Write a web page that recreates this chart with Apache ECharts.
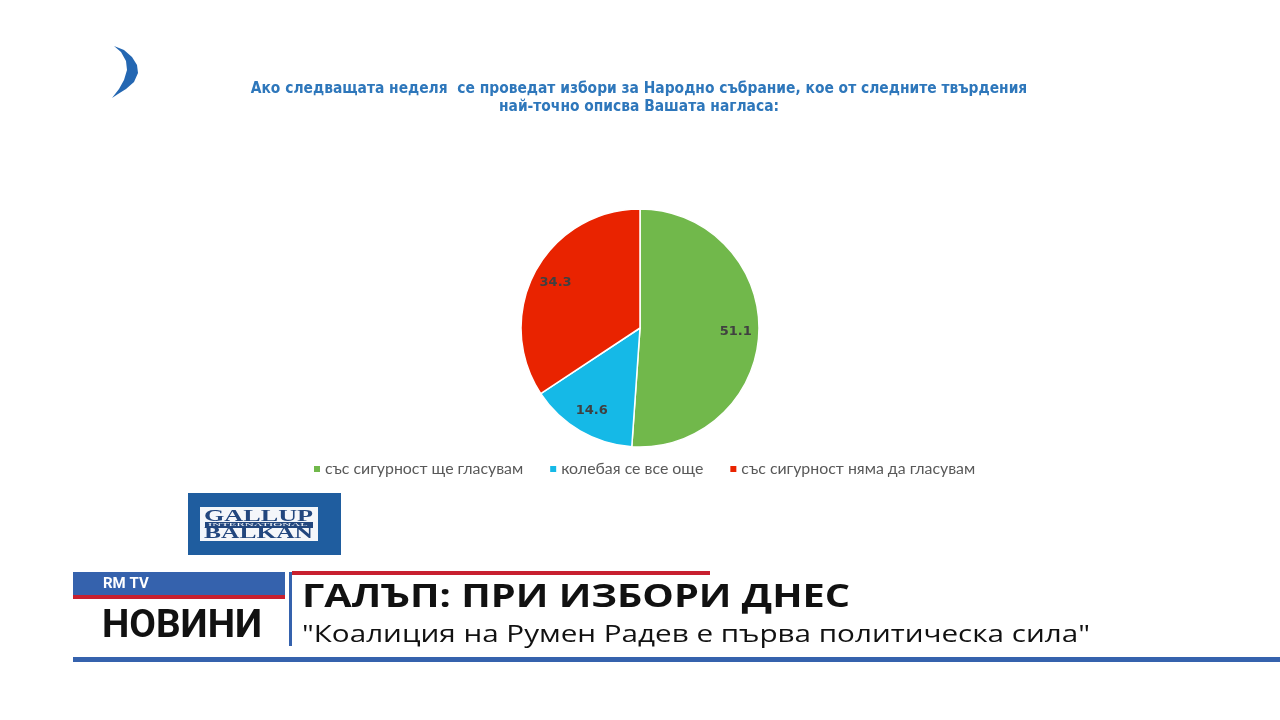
<!DOCTYPE html>
<html lang="bg" style="height: 100%">
<head>
    <meta charset="UTF-8">
</head>
<body style="height: 100%; margin: 0; background: #fff">
  <div id="container" style="width: 1280px; height: 720px"></div>

  <script type="text/javascript" src="https://fastly.jsdelivr.net/npm/echarts@6/dist/echarts.min.js"></script>

  <script type="text/javascript">
    var dom = document.getElementById('container');
    var myChart = echarts.init(dom, null, { renderer: 'canvas' });

    // chart data
    var categories = ['със сигурност ще гласувам', 'колебая се все още', 'със сигурност няма да гласувам'];
    var values = [51.1, 14.6, 34.3];
    var colors = ['#71b84b', '#15b9e7', '#e92300'];

    var titleText = 'Ако следващата неделя  се проведат избори за Народно събрание, кое от следните твърдения\nнай-точно описва Вашата нагласа:';
    var headline = 'ГАЛЪП: ПРИ ИЗБОРИ ДНЕС';
    var subline = '"Коалиция на Румен Радев е първа политическа сила"';

    var pieData = categories.map(function (name, i) {
      return { name: name, value: values[i], itemStyle: { color: colors[i] } };
    });

    var R = 119;
    var center = [640, 328];

    // horizontal stretch so a text run spans a given width
    var measureCtx = document.createElement('canvas').getContext('2d');
    function fit(text, font, width) {
      measureCtx.font = font;
      return width / measureCtx.measureText(text).width;
    }

    var headFont = 'bold 32px "Open Sans", sans-serif';
    var subFont = '23px "Open Sans", sans-serif';
    var serifFont = 'bold 16px "Liberation Serif", serif';
    var tinyFont = '5px "Liberation Serif", serif';

    function txt(x, y, text, font, fill, width, align) {
      return {
        type: 'text', x: x, y: y,
        scaleX: width ? fit(text, font, width) : 1,
        style: { text: text, font: font, fill: fill, textAlign: align || 'left', textVerticalAlign: 'middle' }
      };
    }

    var option = {
      backgroundColor: '#ffffff',
      animation: false,
      title: {
        text: titleText,
        left: 634,
        top: 75,
        textAlign: 'center',
        textStyle: {
          fontFamily: '"Liberation Sans Narrow", "DejaVu Sans Condensed", sans-serif',
          fontWeight: 'bold',
          fontSize: 15.4,
          lineHeight: 18,
          color: '#2e77bb'
        }
      },
      legend: {
        data: categories,
        left: 307,
        top: 456,
        icon: 'rect',
        itemWidth: 8,
        itemHeight: 8,
        itemGap: 25,
        textStyle: {
          fontFamily: 'Lato, sans-serif',
          fontSize: 15.9,
          color: '#595959',
          padding: [0, 0, 0, -1]
        }
      },
      series: [
        {
          type: 'pie',
          center: center,
          radius: R,
          startAngle: 90,
          clockwise: true,
          silent: true,
          label: { show: false },
          labelLine: { show: false },
          itemStyle: { borderColor: '#ffffff', borderWidth: 1.5 },
          data: pieData
        },
        {
          // label-only ring so values sit near the outer edge
          type: 'pie',
          center: center,
          radius: [R * 0.56, R],
          startAngle: 90,
          clockwise: true,
          silent: true,
          legendHoverLink: false,
          itemStyle: { color: 'rgba(0,0,0,0)', borderWidth: 0 },
          label: {
            show: true,
            position: 'inside',
            formatter: function (p) { return p.value.toFixed(1); },
            fontFamily: '"DejaVu Sans", sans-serif',
            fontWeight: 'bold',
            fontSize: 13,
            color: '#404040'
          },
          labelLine: { show: false },
          data: categories.map(function (name, i) {
            return { name: name + ' ', value: values[i] };
          })
        }
      ],
      graphic: [
        // channel logo crescent
        {
          type: 'polygon',
          shape: {
            points: [[114, 46], [124, 50], [132, 57], [137, 65], [138, 73], [134, 82], [126, 89], [118, 94], [112, 98],
                     [119, 89], [124, 80], [127, 70], [126, 61], [121, 52]]
          },
          style: { fill: '#2467b2' }
        },
        // Gallup logo
        { type: 'rect', shape: { x: 188, y: 493, width: 153, height: 62 }, style: { fill: '#1f5d9f' } },
        { type: 'rect', shape: { x: 200, y: 507, width: 118, height: 34 }, style: { fill: '#f4f6fa' } },
        { type: 'rect', shape: { x: 205, y: 522, width: 108, height: 6 }, style: { fill: '#22467e' } },
        txt(204, 517, 'GALLUP', serifFont, '#22467e', 109),
        txt(208, 525, 'INTERNATIONAL', tinyFont, '#ffffff', 100),
        txt(204, 534, 'BALKAN', serifFont, '#22467e', 109),
        // lower third
        { type: 'rect', shape: { x: 73, y: 572, width: 212, height: 23 }, style: { fill: '#3562ad' } },
        { type: 'rect', shape: { x: 73, y: 595, width: 212, height: 4 }, style: { fill: '#c8202f' } },
        txt(103, 584, 'RM TV', 'bold 15px Roboto, sans-serif', '#ffffff', 0),
        txt(102, 627, 'НОВИНИ', 'bold 38px Roboto, sans-serif', '#111111', 160),
        { type: 'rect', shape: { x: 289, y: 572, width: 3, height: 74 }, style: { fill: '#3562ad' } },
        { type: 'rect', shape: { x: 292, y: 571, width: 418, height: 4 }, style: { fill: '#c8202f' } },
        txt(302, 598, headline, headFont, '#111111', 548),
        txt(302, 635, subline, subFont, '#111111', 788),
        { type: 'rect', shape: { x: 73, y: 657, width: 1207, height: 5 }, style: { fill: '#3562ad' } }
      ]
    };

    myChart.setOption(option);
    window.addEventListener('resize', myChart.resize);
  </script>
</body>
</html>
